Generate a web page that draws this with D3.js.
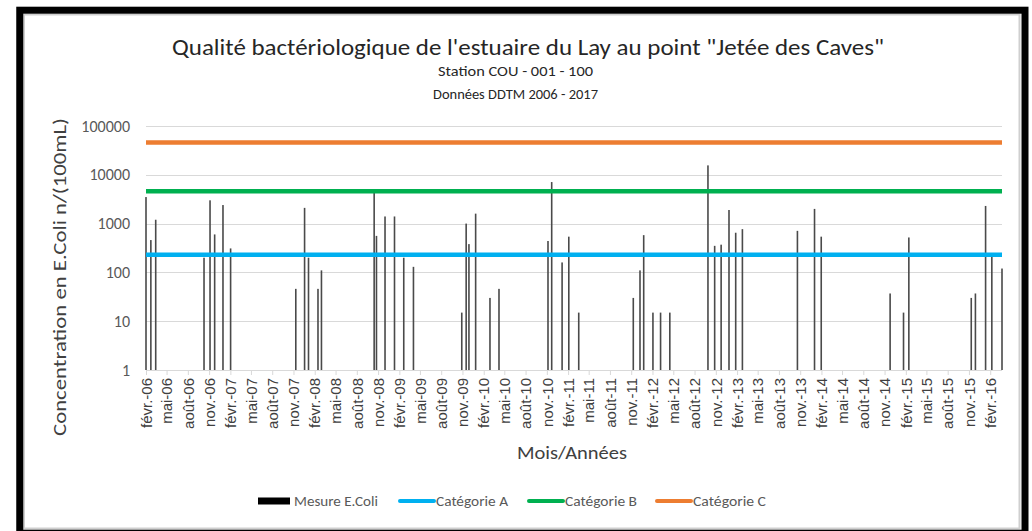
<!DOCTYPE html>
<html>
<head>
<meta charset="utf-8">
<script src="https://cdn.jsdelivr.net/npm/d3@7"></script>
<style>
  html, body { margin: 0; padding: 0; background: #fff; }
  svg { display: block; }
  text { font-family: Carlito, "Liberation Sans Narrow", "Open Sans", "Liberation Sans", sans-serif; }
</style>
</head>
<body>
<svg id="chart" width="1032" height="531"></svg>
<script>
// ---- Data ----
const sampleDates = [
  "2006-02-01","2006-02-22","2006-03-15","2006-10-10","2006-11-05","2006-11-25","2006-12-31","2007-02-02",
  "2007-11-11","2007-12-19","2008-01-05","2008-02-15","2008-03-01","2008-10-15","2008-10-25","2008-12-01",
  "2009-01-11","2009-02-20","2009-04-03","2009-10-29","2009-11-17","2009-11-29","2009-12-28","2010-02-28",
  "2010-04-08","2010-11-06","2010-11-22","2011-01-06","2011-02-04","2011-03-19","2011-11-10","2011-12-09",
  "2011-12-25","2012-02-03","2012-03-07","2012-04-16","2012-09-28","2012-10-27","2012-11-24","2012-12-28",
  "2013-01-26","2013-02-24","2013-10-20","2014-01-02","2014-01-31","2014-11-25","2015-01-22","2015-02-14",
  "2015-11-11","2015-11-29","2016-01-12","2016-02-08","2016-03-23"
];
const ecoliValues = [
  3500, 460, 1200, 200, 3000, 600, 2400, 310,
  46, 2100, 200, 46, 110, 4400, 560, 1400,
  1400, 200, 130, 15, 1000, 380, 1600, 30,
  46, 440, 7100, 160, 540, 15, 30, 110,
  580, 15, 15, 15, 15600, 350, 370, 1900,
  650, 770, 710, 2000, 540, 37, 15, 520,
  30, 37, 2300, 210, 120
];
const categoryNames = ["Catégorie A", "Catégorie B", "Catégorie C"];
const categoryValues = [230, 4600, 46000];
const categoryColors = ["#00B0F0", "#00B050", "#ED7D31"];
const yTickValues = [1, 10, 100, 1000, 10000, 100000];
const xTickLabels = [
  "févr.-06","mai-06","août-06","nov.-06","févr.-07","mai-07","août-07","nov.-07",
  "févr.-08","mai-08","août-08","nov.-08","févr.-09","mai-09","août-09","nov.-09",
  "févr.-10","mai-10","août-10","nov.-10","févr.-11","mai-11","août-11","nov.-11",
  "févr.-12","mai-12","août-12","nov.-12","févr.-13","mai-13","août-13","nov.-13",
  "févr.-14","mai-14","août-14","nov.-14","févr.-15","mai-15","août-15","nov.-15",
  "févr.-16"
];
const firstTick = "2006-02-01";

// ---- Layout ----
const svg = d3.select("#chart");
const plot = { left: 146, right: 1002, top: 126, bottom: 370 };
const parse = d3.utcParse("%Y-%m-%d");
const dates = sampleDates.map(parse);

const x = d3.scaleUtc()
  .domain([parse(sampleDates[0]), parse(sampleDates[sampleDates.length - 1])])
  .range([plot.left, plot.right]);
const y = d3.scaleLog().domain([1, 100000]).range([plot.bottom, plot.top]);

const tickDates = xTickLabels.map((_, i) => d3.utcMonth.offset(parse(firstTick), 3 * i));

// Frame
svg.append("rect").attr("x", 0).attr("y", 0).attr("width", 1032).attr("height", 531).attr("fill", "#fff");
svg.append("rect").attr("x", 24).attr("y", 14.5).attr("width", 995.5).attr("height", 514)
  .attr("fill", "none").attr("stroke", "#cfcfcf").attr("stroke-width", 2);
svg.append("rect").attr("x", 19.75).attr("y", 10.2).attr("width", 1005.25).attr("height", 523)
  .attr("fill", "none").attr("stroke", "#000").attr("stroke-width", 7);

// Gridlines
svg.append("g").selectAll("line").data(yTickValues.slice(1)).join("line")
  .attr("x1", plot.left).attr("x2", plot.right)
  .attr("y1", d => Math.round(y(d)) + 0.5).attr("y2", d => Math.round(y(d)) + 0.5)
  .attr("stroke", "#d9d9d9").attr("stroke-width", 1);

// Y axis labels
const yAxis = d3.axisLeft(y).tickValues(yTickValues).tickFormat(d3.format("d")).tickSize(0).tickPadding(16);
const gy = svg.append("g").attr("transform", `translate(${plot.left},0)`).call(yAxis);
gy.select(".domain").remove();
gy.selectAll("text").attr("fill", "#595959").style("font-size", "16px");

// Bars
svg.append("g").selectAll("rect").data(dates).join("rect")
  .attr("x", d => x(d) - 0.8)
  .attr("width", 1.6)
  .attr("y", (d, i) => y(ecoliValues[i]))
  .attr("height", (d, i) => y(1) - y(ecoliValues[i]))
  .attr("fill", "#4a4a4a");

// X axis
const xAxis = d3.axisBottom(x).tickValues(tickDates).tickFormat((d, i) => xTickLabels[i]).tickSize(5).tickSizeOuter(0);
const gx = svg.append("g").attr("transform", `translate(0,${plot.bottom})`).call(xAxis);
gx.select(".domain").attr("stroke", "#d9d9d9").attr("d", `M${plot.left},0.5H${plot.right}`);
gx.selectAll(".tick line").attr("stroke", "#d9d9d9");
gx.selectAll("text")
  .attr("fill", "#404040").style("font-size", "15px")
  .style("font-family", "'Liberation Sans', Arial, sans-serif")
  .attr("text-anchor", "end")
  .attr("transform", "rotate(-90)")
  .attr("x", -8).attr("y", 0).attr("dy", "0.35em");

// Category lines
svg.append("g").selectAll("line").data(categoryValues).join("line")
  .attr("x1", plot.left).attr("x2", plot.right)
  .attr("y1", d => y(d)).attr("y2", d => y(d))
  .attr("stroke", (d, i) => categoryColors[i]).attr("stroke-width", 4.5);

// Titles
svg.append("text").attr("x", 528).attr("y", 55).attr("text-anchor", "middle")
  .attr("fill", "#262626").style("font-size", "22px")
  .attr("textLength", 712).attr("lengthAdjust", "spacingAndGlyphs")
  .text("Qualité bactériologique de l'estuaire du Lay au point \"Jetée des Caves\"");
svg.append("text").attr("x", 515.5).attr("y", 76).attr("text-anchor", "middle")
  .attr("fill", "#262626").style("font-size", "15px")
  .attr("textLength", 155).attr("lengthAdjust", "spacingAndGlyphs")
  .text("Station COU - 001 - 100");
svg.append("text").attr("x", 515.5).attr("y", 99).attr("text-anchor", "middle")
  .attr("fill", "#262626").style("font-size", "15px")
  .attr("textLength", 165).attr("lengthAdjust", "spacingAndGlyphs")
  .text("Données DDTM 2006 - 2017");

// Axis titles
svg.append("text").attr("transform", "translate(66,277) rotate(-90)").attr("text-anchor", "middle")
  .attr("fill", "#404040").style("font-size", "19px")
  .attr("textLength", 318).attr("lengthAdjust", "spacingAndGlyphs")
  .text("Concentration en E.Coli n/(100mL)");
svg.append("text").attr("x", 572).attr("y", 459).attr("text-anchor", "middle")
  .attr("fill", "#404040").style("font-size", "19px")
  .attr("textLength", 110).attr("lengthAdjust", "spacingAndGlyphs")
  .text("Mois/Années");

// Legend
const legendItems = [
  { name: "Mesure E.Coli", color: "#000", type: "rect", x: 258, tw: 84 },
  { name: categoryNames[0], color: categoryColors[0], type: "line", x: 400, tw: 72 },
  { name: categoryNames[1], color: categoryColors[1], type: "line", x: 529, tw: 72 },
  { name: categoryNames[2], color: categoryColors[2], type: "line", x: 657, tw: 73 }
];
const lg = svg.append("g").attr("transform", "translate(0,501)");
legendItems.forEach(it => {
  if (it.type === "rect") {
    lg.append("rect").attr("x", it.x).attr("y", -3.5).attr("width", 32).attr("height", 7).attr("fill", it.color);
  } else {
    lg.append("line").attr("x1", it.x).attr("x2", it.x + 34).attr("y1", 0).attr("y2", 0)
      .attr("stroke", it.color).attr("stroke-width", 4).attr("stroke-linecap", "round");
  }
  lg.append("text").attr("x", it.x + 36).attr("y", 0).attr("dy", "0.35em")
    .attr("fill", "#595959").style("font-size", "14px")
    .attr("textLength", it.tw).attr("lengthAdjust", "spacingAndGlyphs")
    .text(it.name);
});
</script>
</body>
</html>
